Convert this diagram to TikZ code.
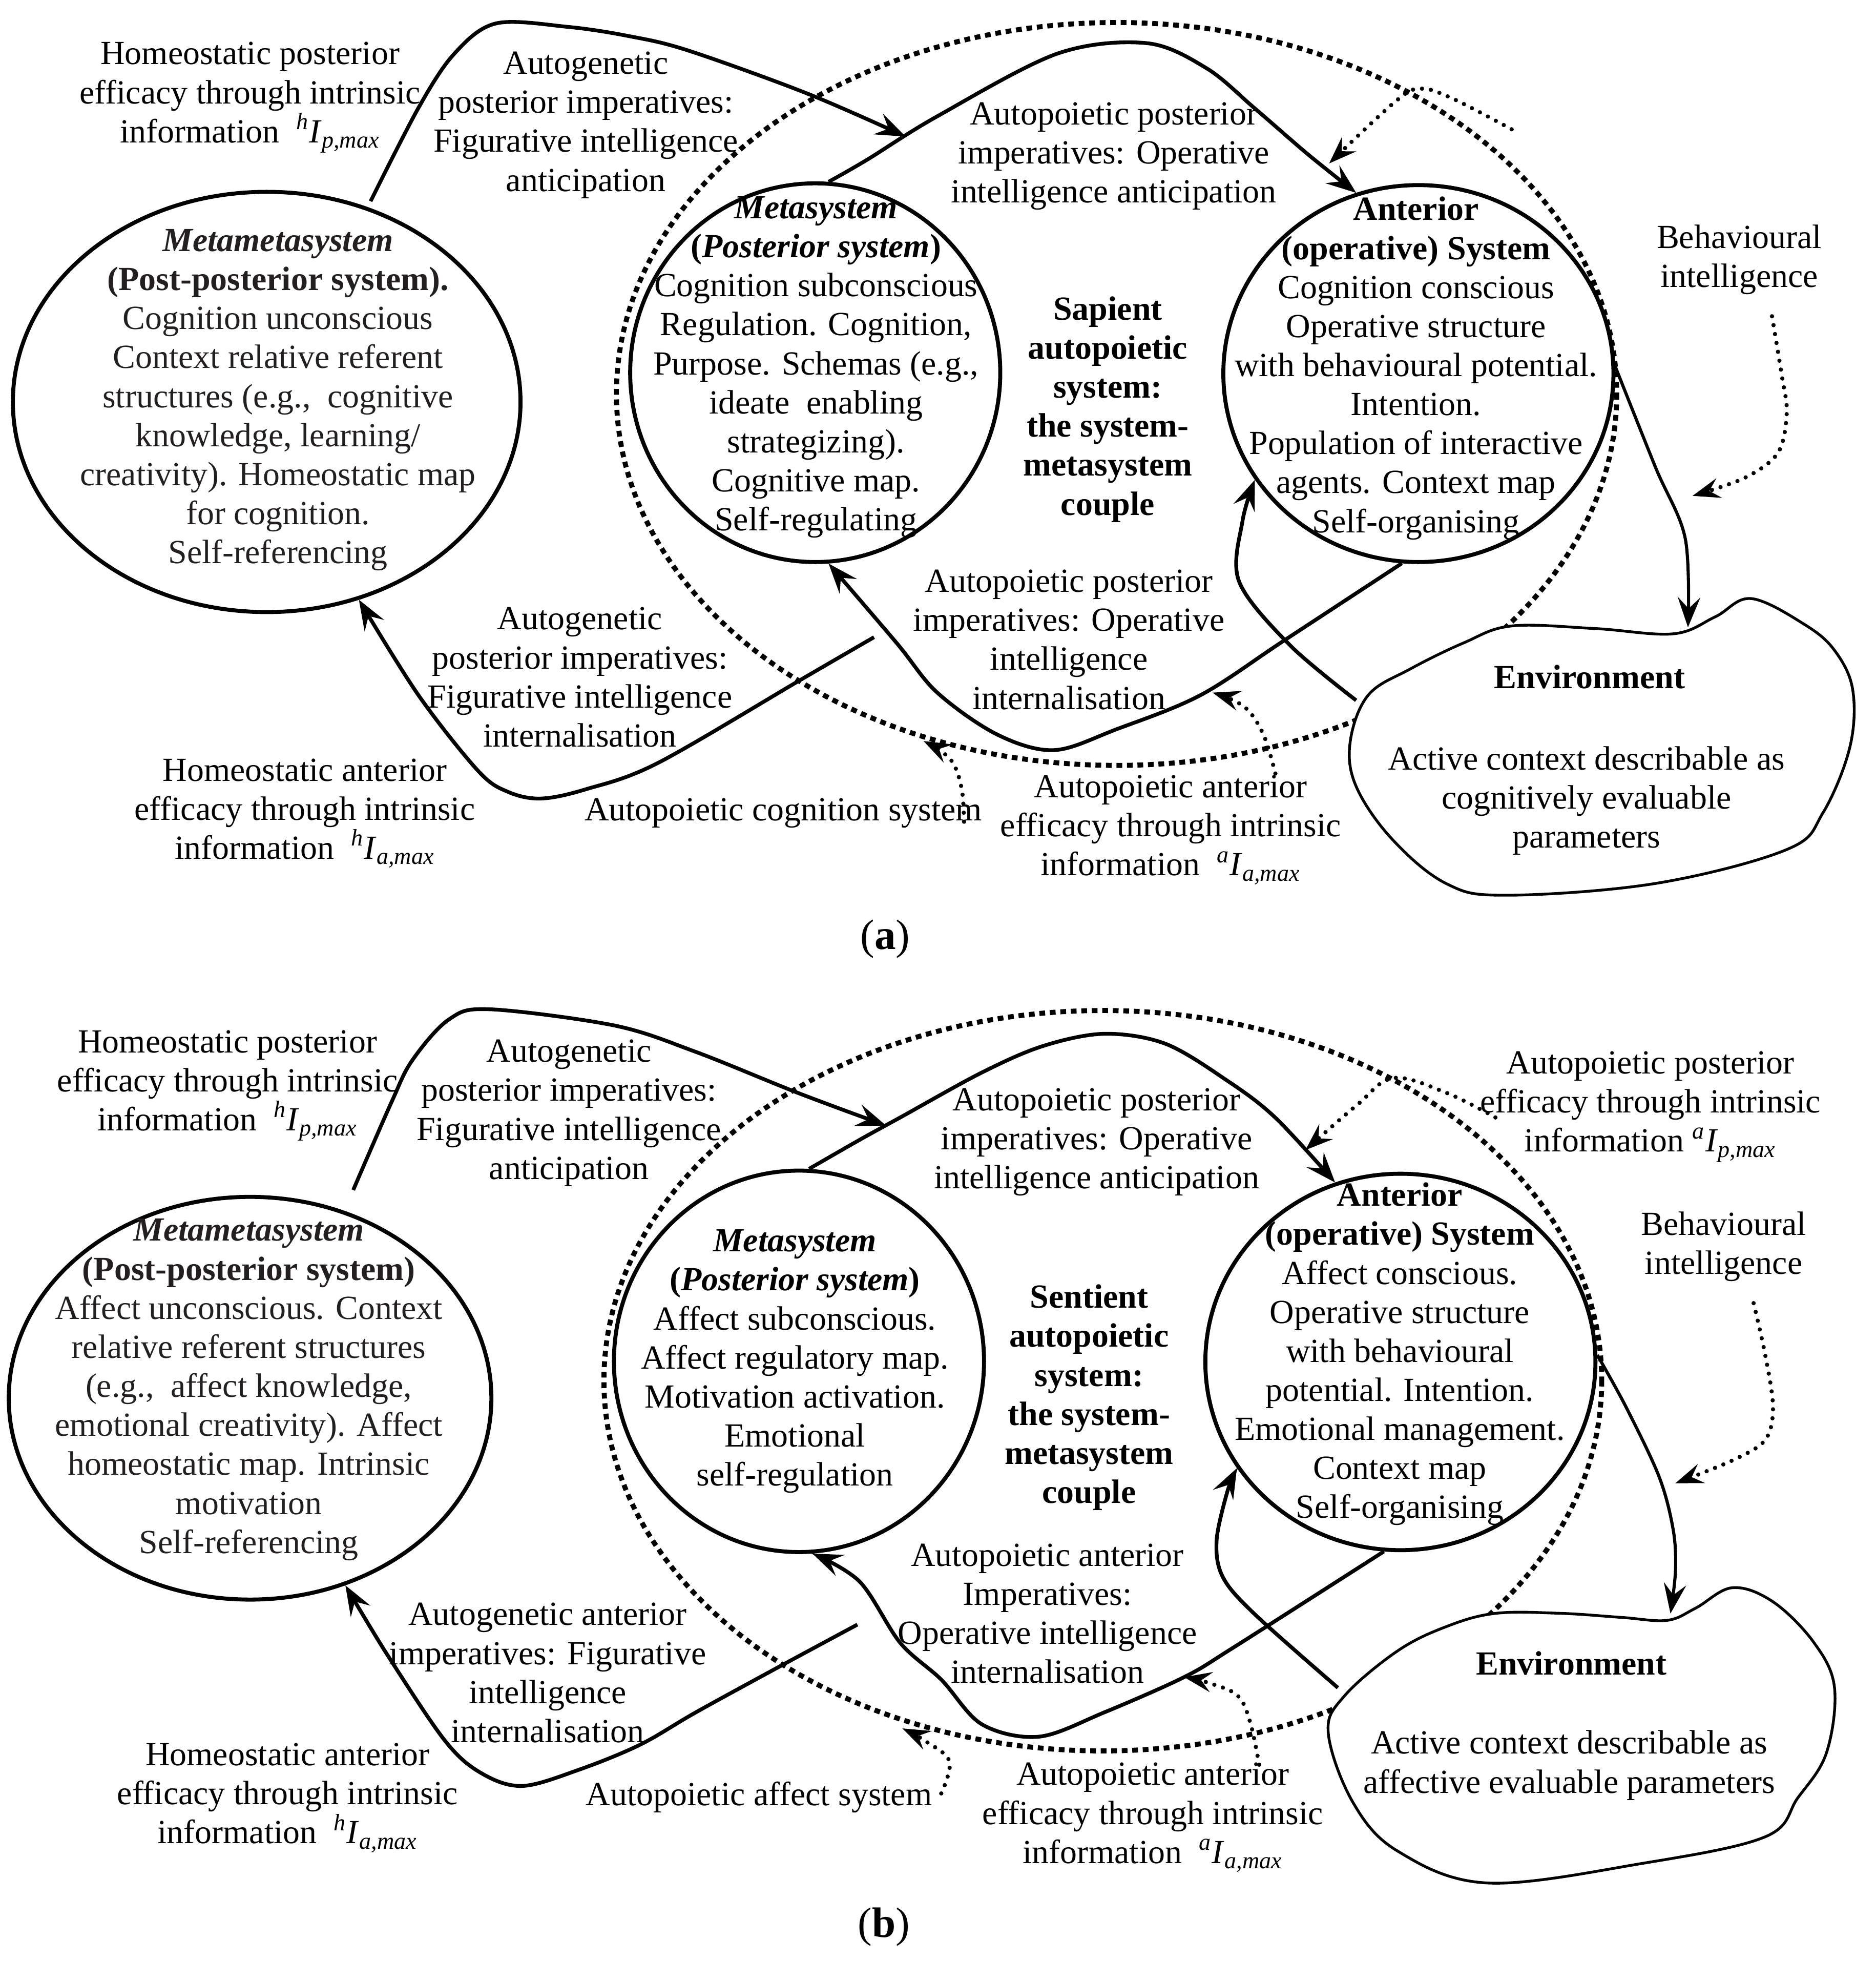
\documentclass[tikz,border=0pt]{standalone}
\usepackage{fontspec}
\setmainfont{Liberation Serif}
\usetikzlibrary{arrows.meta,shapes.geometric}
\newcommand{\bodysize}{\fontsize{13.5}{15.6}\selectfont}
\newcommand{\infq}[2]{\textsuperscript{\itshape #1}\textit{I}\textsubscript{\itshape #2}}
\definecolor{inkgray}{RGB}{35,31,32}
\begin{document}
\begin{tikzpicture}[x=0.5pt,y=-0.5pt,
  sysnode/.style={draw, ellipse, line width=1.6pt, inner sep=0pt},
  lbl/.style={align=center, inner sep=0pt, font=\bodysize},
  blbl/.style={align=center, inner sep=0pt, font=\bodysize\bfseries},
  arr/.style={line width=1.5pt, -{Stealth[length=12pt,width=9pt,inset=4.5pt]}},
  darr/.style={line width=1.7pt, dash pattern=on 0pt off 3.6pt, line cap=round, -{Stealth[length=11pt,width=8pt,inset=4pt]}},
  bigdot/.style={line width=2pt, dash pattern=on 2.3pt off 1.9pt},
  envshape/.style={draw, fill=white, line width=1.1pt},
  caplbl/.style={inner sep=0pt, font=\fontsize{17}{20}\selectfont}]
\useasboundingbox (0,0) rectangle (1500,1568);

%================ PANEL (a) ================
\draw[bigdot] (893,315) ellipse (400 and 297);
\draw[envshape] plot[smooth cycle,tension=0.6] coordinates {(1209,500.5) (1276,502.6) (1338.2,506.8) (1371.8,493.2) (1400.5,478.6) (1443.5,499.5) (1467.5,520.4) (1481.8,551.8) (1479.4,597.7) (1457.9,650) (1429.2,679.2) (1324,706.4) (1204.3,715.8) (1156.5,706.4) (1113.3,670.9) (1084.7,629) (1079.8,593.5) (1094.2,555.9) (1127.7,535) (1170.7,514)};

\node[sysnode, minimum width=203pt, minimum height=168pt] (mmA) at (213.3,321.4) {};
\node[sysnode, minimum width=148pt, minimum height=151.4pt] (metaA) at (652,298) {};
\node[sysnode, minimum width=156pt, minimum height=150.7pt] (antA) at (1134.4,298.7) {};

\node[lbl, text=inkgray] (mmAt) at (222.3,319.8) {{\bfseries\itshape Metametasystem}\\{\bfseries (Post-posterior system).}\\Cognition unconscious\\Context relative referent\\structures (e.g.,\ \ cognitive\\knowledge, learning/\\creativity). Homeostatic map\\for cognition.\\Self-referencing};
\node[lbl] (metaAt) at (652.6,293.6) {{\bfseries\itshape Metasystem}\\{\bfseries(\textit{Posterior system})}\\Cognition subconscious\\Regulation. Cognition,\\Purpose. Schemas (e.g.,\\ideate\ \ enabling\\strategizing).\\Cognitive map.\\Self-regulating};
\node[blbl] (sapA) at (886,327.3) {Sapient\\autopoietic\\system:\\the system-\\metasystem\\couple};
\node[lbl] (antAt) at (1132.5,294.5) {{\bfseries Anterior}\\{\bfseries (operative) System}\\Cognition conscious\\Operative structure\\with behavioural potential.\\Intention.\\Population of interactive\\agents. Context map\\Self-organising};

\node[lbl] (tHPa) at (200,78) {Homeostatic posterior\\efficacy through intrinsic\\information\enspace\infq{h}{p,max}};
\node[lbl] (tAGa) at (468.5,100) {Autogenetic\\posterior imperatives:\\Figurative intelligence\\anticipation};
\node[lbl] (tAPa) at (890.8,125) {Autopoietic posterior\\imperatives: Operative\\intelligence anticipation};
\node[lbl] (bhA) at (1391,207.6) {Behavioural\\intelligence};
\node[lbl] (tAPIa) at (854.9,511.5) {Autopoietic posterior\\imperatives: Operative\\intelligence\\internalisation};
\node[lbl] (tAGIa) at (463.8,541.5) {Autogenetic\\posterior imperatives:\\Figurative intelligence\\internalisation};
\node[lbl] (tHAa) at (243.8,650.3) {Homeostatic anterior\\efficacy through intrinsic\\information\enspace\infq{h}{a,max}};
\node[lbl] (tACSa) at (626.5,650) {Autopoietic cognition system};
\node[lbl] (tAAEa) at (936.3,663.6) {Autopoietic anterior\\efficacy through intrinsic\\information\enspace\infq{a}{a,max}};
\node[blbl] (envA) at (1271.3,541.3) {Environment};
\node[lbl] (envAb) at (1268.8,640.2) {Active context describable as\\cognitively evaluable\\parameters};
\node[caplbl] (capA) at (708,751) {(\textbf{a})};

\coordinate (a1s) at (296.4,160.9);
\coordinate (a1e) at (724.3,109.2);
\coordinate (envAtop) at (1350,501.6);
\coordinate (envAl) at (1084.6,560);
\coordinate (bhAs) at (1417.2,252.9);
\coordinate (bhAe) at (1353.6,396.5);
\coordinate (a7s) at (699,509.5);
\coordinate (a8s) at (771,657);
\coordinate (a8e) at (738.6,592.5);
\coordinate (a9s) at (1020,618.5);
\coordinate (a9e) at (969.8,553.8);
\coordinate (a10s) at (1209,103.4);
\coordinate (a10e) at (1063,130.7);

\draw[arr] plot[smooth,tension=0.55] coordinates {(a1s) (334.7,86.2) (363.3,43) (396.8,18.7) (454.2,21.5) (502,28.7) (549.8,40.2) (645.4,74.7) (a1e)};
\draw[arr] plot[smooth,tension=0.55] coordinates {(metaA.86) (693.2,127.9) (749.6,93) (845.3,43) (917,34.5) (965,54.6) (1003,86.2) (1046.3,123.6) (antA.109)};
\draw[arr,line width=1.25pt] plot[smooth,tension=0.55] coordinates {(antA.2) (1324,373.6) (1347.8,430.5) (envAtop)};
\draw[darr] plot[smooth,tension=0.55] coordinates {(bhAs) (1425,300) (1429,330) (1422,362) (1395.6,382) (bhAe)};
\draw[arr] plot[smooth,tension=0.55] coordinates {(envAl) (1031.8,516) (991,465) (993.7,416.7) (antA.213)};
\draw[arr] plot[smooth,tension=0.55] coordinates {(antA.265) (1027.2,512) (960,555.9) (893.2,583) (843,599.8) (797.5,587.3) (749.6,553.8) (717,514) (metaA.274)};
\draw[arr] plot[smooth,tension=0.55] coordinates {(a7s) (640.6,543.4) (525.9,610.2) (468.5,631.1) (432.7,638.5) (406.4,633.2) (382.5,616.5) (334.7,555.9) (mmA.295)};
\draw[darr] plot[smooth,tension=0.6] coordinates {(a8s) (769,630) (760,607) (a8e)};
\draw[darr] plot[smooth,tension=0.6] coordinates {(a9s) (1010.4,587.3) (995,565) (a9e)};
\draw[darr] plot[smooth,tension=0.6] coordinates {(a10s) (1160,78) (1135,71) (1115,82) (a10e)};

%================ PANEL (b) ================
\draw[bigdot] (882,1104) ellipse (399 and 296);
\draw[envshape] plot[smooth cycle,tension=0.6] coordinates {(1196.2,1290) (1248.4,1290) (1297.4,1293.3) (1333.3,1295.6) (1356.2,1285.8) (1385.6,1269.5) (1418.2,1280.9) (1450.9,1313.6) (1467.2,1349.5) (1460.7,1401.7) (1437.8,1437.6) (1411.7,1468.7) (1313.7,1489.9) (1189.7,1505.6) (1117.8,1480.1) (1081.9,1440.9) (1062.3,1385.4) (1075.3,1356) (1117.8,1320) (1157,1300.5)};

\node[sysnode, minimum width=193pt, minimum height=161pt] (mmB) at (200,1118) {};
\node[sysnode, minimum width=148pt, minimum height=152.5pt] (metaB) at (639,1088.5) {};
\node[sysnode, minimum width=156pt, minimum height=150.5pt] (antB) at (1120,1089) {};

\node[lbl, text=inkgray] (mmBt) at (199,1111.2) {{\bfseries\itshape Metametasystem}\\{\bfseries (Post-posterior system)}\\Affect unconscious. Context\\relative referent structures\\(e.g.,\ \ affect knowledge,\\emotional creativity). Affect\\homeostatic map. Intrinsic\\motivation\\Self-referencing};
\node[lbl] (metaBt) at (635.7,1088.5) {{\bfseries\itshape Metasystem}\\{\bfseries(\textit{Posterior system})}\\Affect subconscious.\\Affect regulatory map.\\Motivation activation.\\Emotional\\self-regulation};
\node[blbl] (senB) at (871,1117.4) {Sentient\\autopoietic\\system:\\the system-\\metasystem\\couple};
\node[lbl] (antBt) at (1119.5,1082.7) {{\bfseries Anterior}\\{\bfseries (operative) System}\\Affect conscious.\\Operative structure\\with behavioural\\potential. Intention.\\Emotional management.\\Context map\\Self-organising};

\node[lbl] (tHPb) at (182,868) {Homeostatic posterior\\efficacy through intrinsic\\information\enspace\infq{h}{p,max}};
\node[lbl] (tAGb) at (455,890) {Autogenetic\\posterior imperatives:\\Figurative intelligence\\anticipation};
\node[lbl] (tAPb) at (877,913.3) {Autopoietic posterior\\imperatives: Operative\\intelligence anticipation};
\node[lbl] (tAPEb) at (1320,885) {Autopoietic posterior\\efficacy through intrinsic\\information \infq{a}{p,max}};
\node[lbl] (bhB) at (1378.5,996.8) {Behavioural\\intelligence};
\node[lbl] (tAAIb) at (837.7,1290.2) {Autopoietic anterior\\Imperatives:\\Operative intelligence\\internalisation};
\node[lbl] (tAGIb) at (438,1337.6) {Autogenetic anterior\\imperatives: Figurative\\intelligence\\internalisation};
\node[lbl] (tHAb) at (230,1437.6) {Homeostatic anterior\\efficacy through intrinsic\\information\enspace\infq{h}{a,max}};
\node[lbl] (tAASb) at (607,1437) {Autopoietic affect system};
\node[lbl] (tAAEb) at (922,1453.3) {Autopoietic anterior\\efficacy through intrinsic\\information\enspace\infq{a}{a,max}};
\node[blbl] (envB) at (1256.7,1330) {Environment};
\node[lbl] (envBb) at (1255,1411.5) {Active context describable as\\affective evaluable parameters};
\node[caplbl] (capB) at (707,1540.6) {(\textbf{b})};

\coordinate (b1s) at (282.5,951.5);
\coordinate (b1e) at (708.7,900);
\coordinate (envBtop) at (1336,1290.2);
\coordinate (envBl) at (1070,1349.5);
\coordinate (bhBs) at (1402.5,1042);
\coordinate (bhBe) at (1339.9,1186);
\coordinate (b7s) at (685.7,1299);
\coordinate (b8s) at (752.8,1434);
\coordinate (b8e) at (721.7,1382);
\coordinate (b9s) at (1007,1411);
\coordinate (b9e) at (947,1341);
\coordinate (b10s) at (1196,893.5);
\coordinate (b10e) at (1044,919.6);

\draw[arr] plot[smooth,tension=0.55] coordinates {(b1s) (313.5,880.4) (329.8,847.7) (359.2,815) (391.8,807) (491.5,820) (556.8,841.2) (638.5,874) (b1e)};
\draw[arr] plot[smooth,tension=0.55] coordinates {(metaB.87) (687.5,911.4) (720,893.5) (785.4,857.5) (834.4,836.3) (883.5,826.6) (932.4,834.7) (981.4,864) (1019.8,893.5) (antB.110)};
\draw[arr,line width=1.25pt] plot[smooth,tension=0.55] coordinates {(antB.2) (1300.6,1125.3) (1327,1181) (1338.2,1223.3) (1340,1256) (envBtop)};
\draw[darr] plot[smooth,tension=0.55] coordinates {(bhBs) (1411.7,1083) (1418,1125) (1411.7,1151.4) (1385.6,1167.7) (bhBe)};
\draw[arr] plot[smooth,tension=0.55] coordinates {(envBl) (1003.5,1290.7) (978,1261) (973,1232) (981.5,1193) (antB.213)};
\draw[arr] plot[smooth,tension=0.55] coordinates {(antB.265) (987,1317) (947,1341) (883.4,1369.1) (831,1388.6) (785.4,1378.8) (752.8,1343) (720,1313.6) (687.5,1264.6) (metaB.274)};
\draw[arr] plot[smooth,tension=0.55] coordinates {(b7s) (622.2,1333.2) (556.8,1369) (512,1395) (463.7,1414.8) (418,1428) (385.3,1418) (356,1392) (310,1323.5) (mmB.297)};
\draw[darr] plot[smooth,tension=0.6] coordinates {(b8s) (759.3,1408.3) (739.7,1391.9) (b8e)};
\draw[darr] plot[smooth,tension=0.6] coordinates {(b9s) (1000,1377.6) (990,1356) (968,1346) (b9e)};
\draw[darr] plot[smooth,tension=0.6] coordinates {(b10s) (1157,873.9) (1114.5,862) (1085.1,883.7) (b10e)};
\end{tikzpicture}
\end{document}
